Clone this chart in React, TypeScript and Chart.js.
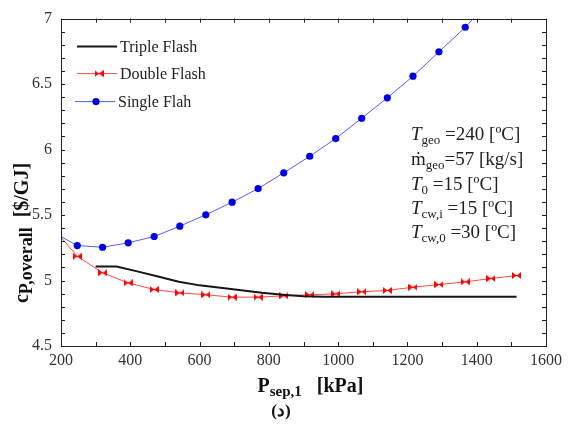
import React, { useEffect, useRef } from "react";
import { Chart, registerables } from "chart.js";

Chart.register(...registerables);

// ---- data ----
const xTicks = [200, 400, 600, 800, 1000, 1200, 1400, 1600];
const yTicks = [4.5, 5, 5.5, 6, 6.5, 7];

const tripleX = [300, 360, 420, 480, 540, 600, 660, 720, 780, 840, 900, 960, 1100, 1300, 1515];
const tripleY = [5.107, 5.107, 5.07, 5.03, 4.99, 4.963, 4.944, 4.925, 4.906, 4.892, 4.88, 4.876, 4.876, 4.876, 4.877];

const doubleX = [200, 247, 320, 394, 469, 543, 618, 694, 769, 843, 918, 993, 1068, 1142, 1216, 1291, 1367, 1441, 1515];
const doubleY = [5.33, 5.185, 5.059, 4.982, 4.931, 4.906, 4.891, 4.873, 4.873, 4.883, 4.891, 4.898, 4.914, 4.924, 4.949, 4.969, 4.99, 5.015, 5.038];

const singleX = [200, 247, 320, 394, 469, 543, 618, 694, 769, 843, 918, 993, 1068, 1142, 1216, 1291, 1367, 1450];
const singleY = [5.336, 5.267, 5.254, 5.288, 5.336, 5.415, 5.502, 5.598, 5.702, 5.822, 5.949, 6.084, 6.239, 6.395, 6.56, 6.746, 6.934, 7.17];

const seriesNames = ["Triple Flash", "Double Flash", "Single Flah"];

type Run = { t: string; italic?: boolean; sub?: boolean };
const annotationLines: Run[][] = [
  [{ t: "T", italic: true }, { t: "geo", sub: true }, { t: " =240 [ºC]" }],
  [{ t: "ṁ" }, { t: "geo", sub: true }, { t: "=57 [kg/s]" }],
  [{ t: "T", italic: true }, { t: "0", sub: true }, { t: " =15 [ºC]" }],
  [{ t: "T", italic: true }, { t: "cw,i", sub: true }, { t: " =15 [ºC]" }],
  [{ t: "T", italic: true }, { t: "cw,0", sub: true }, { t: " =30 [ºC]" }],
];
const xTitle: Run[] = [{ t: "P" }, { t: "sep,1", sub: true }, { t: "   [kPa]" }];
const yTitle: Run[] = [{ t: "c" }, { t: "P,overall", sub: true }, { t: "  [$/GJ]" }];
const caption = "(د)";

const FAMILY = "'Liberation Serif', 'Times New Roman', serif";

const BLACK = "#151515";
const RED_LINE = "#ff4a4a";
const RED_MARK = "#ff0000";
const BLUE_LINE = "#5a5aff";
const BLUE_MARK = "#0000e6";

function makeBowtie(): HTMLCanvasElement {
  const c = document.createElement("canvas");
  c.width = 9;
  c.height = 7;
  const g = c.getContext("2d")!;
  g.fillStyle = RED_MARK;
  g.beginPath();
  g.moveTo(0, 0);
  g.lineTo(0, 7);
  g.lineTo(4.5, 3.5);
  g.closePath();
  g.fill();
  g.beginPath();
  g.moveTo(9, 0);
  g.lineTo(9, 7);
  g.lineTo(4.5, 3.5);
  g.closePath();
  g.fill();
  g.fillRect(0, 3, 9, 1);
  return c;
}

function runsWidth(ctx: CanvasRenderingContext2D, runs: Run[], base: number, sub: number, bold: boolean) {
  let w = 0;
  for (const r of runs) {
    ctx.font = `${r.italic ? "italic " : ""}${bold ? "bold " : ""}${r.sub ? sub : base}px ${FAMILY}`;
    w += ctx.measureText(r.t).width;
  }
  return w;
}

function drawRuns(
  ctx: CanvasRenderingContext2D,
  runs: Run[],
  x: number,
  y: number,
  base: number,
  sub: number,
  subDy: number,
  bold: boolean
) {
  let cx = x;
  for (const r of runs) {
    ctx.font = `${r.italic ? "italic " : ""}${bold ? "bold " : ""}${r.sub ? sub : base}px ${FAMILY}`;
    ctx.fillText(r.t, cx, y + (r.sub ? subDy : 0));
    cx += ctx.measureText(r.t).width;
  }
}

export default function App() {
  const ref = useRef<HTMLCanvasElement | null>(null);

  useEffect(() => {
    if (!ref.current) return;
    const bowtie = makeBowtie();

    const decor = {
      id: "decor",
      afterDraw(chart: any) {
        const ctx: CanvasRenderingContext2D = chart.ctx;
        const a = chart.chartArea;
        const xs = chart.scales.x;
        const ys = chart.scales.y;
        ctx.save();

        // frame
        ctx.strokeStyle = "#222";
        ctx.lineWidth = 1;
        ctx.strokeRect(Math.round(a.left) + 0.5, Math.round(a.top) + 0.5, Math.round(a.right - a.left), Math.round(a.bottom - a.top));

        // inward ticks
        ctx.beginPath();
        for (let v = 200; v <= 1600; v += 100) {
          const px = Math.round(xs.getPixelForValue(v)) + 0.5;
          ctx.moveTo(px, a.bottom);
          ctx.lineTo(px, a.bottom - 4);
          ctx.moveTo(px, a.top);
          ctx.lineTo(px, a.top + 4);
        }
        for (let i = 0; i <= 25; i++) {
          const v = 4.5 + i * 0.1;
          const py = Math.round(ys.getPixelForValue(v)) + 0.5;
          ctx.moveTo(a.left, py);
          ctx.lineTo(a.left + 4, py);
          ctx.moveTo(a.right, py);
          ctx.lineTo(a.right - 4, py);
        }
        ctx.stroke();

        // legend inside plot
        const lx = a.left + 16;
        const rows = [a.top + 28, a.top + 55, a.top + 83];
        const ds = chart.data.datasets;
        ctx.textBaseline = "middle";
        ctx.textAlign = "left";
        for (let i = 0; i < 3; i++) {
          const y = rows[i];
          const d = ds[i];
          ctx.strokeStyle = d.borderColor;
          ctx.lineWidth = d.borderWidth;
          ctx.beginPath();
          const off = i === 2 ? -2 : 0;
          ctx.moveTo(lx + off, y);
          ctx.lineTo(lx + 40 + off, y);
          ctx.stroke();
          if (i === 1) {
            ctx.drawImage(bowtie, lx + 22 - 4.5, y - 3.5);
          } else if (i === 2) {
            ctx.fillStyle = BLUE_MARK;
            ctx.beginPath();
            ctx.arc(lx + 19, y, 3.6, 0, Math.PI * 2);
            ctx.fill();
          }
          ctx.fillStyle = "#222";
          ctx.font = `16px ${FAMILY}`;
          ctx.fillText(d.label, lx + 43 + off, y + 1);
        }

        // annotation block
        ctx.textBaseline = "alphabetic";
        ctx.fillStyle = "#222";
        const ax = a.left + 350;
        const baselines = [140, 165, 190, 214, 238];
        annotationLines.forEach((runs, i) => {
          drawRuns(ctx, runs, ax, baselines[i], 19, 13, 4, false);
        });

        // x title
        ctx.fillStyle = "#111";
        const xw = runsWidth(ctx, xTitle, 20, 15, true);
        const xc = (a.left + a.right) / 2 + 7;
        drawRuns(ctx, xTitle, xc - xw / 2, 392, 20, 15, 4, true);

        // y title (rotated)
        ctx.save();
        ctx.translate(28, 233);
        ctx.rotate(-Math.PI / 2);
        const yw = runsWidth(ctx, yTitle, 20, 18, true);
        drawRuns(ctx, yTitle, -yw / 2, 0, 20, 18, 4, true);
        ctx.restore();

        // caption
        ctx.font = `bold 17px ${FAMILY}`;
        ctx.textAlign = "center";
        ctx.fillText(caption, 281, 416);

        ctx.restore();
      },
    };

    const chart = new Chart(ref.current, {
      type: "line",
      data: {
        datasets: [
          {
            label: seriesNames[0],
            data: tripleX.map((x, i) => ({ x, y: tripleY[i] })),
            borderColor: BLACK,
            borderWidth: 2,
            pointRadius: 0,
            tension: 0,
          },
          {
            label: seriesNames[1],
            data: doubleX.map((x, i) => ({ x, y: doubleY[i] })),
            borderColor: RED_LINE,
            borderWidth: 1,
            pointStyle: bowtie as any,
            pointRadius: doubleX.map((_, i) => (i === 0 ? 0 : 4)),
            tension: 0,
          },
          {
            label: seriesNames[2],
            data: singleX.map((x, i) => ({ x, y: singleY[i] })),
            borderColor: BLUE_LINE,
            borderWidth: 1,
            pointStyle: "circle",
            pointRadius: singleX.map((_, i) => (i === 0 || i === singleX.length - 1 ? 0 : 3.6)),
            pointBackgroundColor: BLUE_MARK,
            pointBorderColor: BLUE_MARK,
            pointBorderWidth: 0,
            tension: 0,
          },
        ],
      },
      options: {
        responsive: false,
        animation: false,
        devicePixelRatio: 1,
        layout: { padding: { left: 0, top: 18, right: 22, bottom: 0 } },
        plugins: {
          legend: { display: false },
          tooltip: { enabled: false },
        },
        scales: {
          x: {
            type: "linear",
            min: 200,
            max: 1600,
            grid: { display: false, drawTicks: false },
            border: { display: false },
            afterBuildTicks: (s: any) => {
              s.ticks = xTicks.map((v) => ({ value: v }));
            },
            afterFit: (s: any) => {
              s.height = 100;
            },
            ticks: {
              autoSkip: false,
              maxRotation: 0,
              padding: 5,
              color: "#333",
              font: { family: FAMILY, size: 16 },
              callback: (v: any) => String(v),
            },
          },
          y: {
            type: "linear",
            min: 4.5,
            max: 7,
            grid: { display: false, drawTicks: false },
            border: { display: false },
            afterBuildTicks: (s: any) => {
              s.ticks = yTicks.map((v) => ({ value: v }));
            },
            afterFit: (s: any) => {
              s.width = 61;
            },
            ticks: {
              autoSkip: false,
              padding: 9,
              color: "#333",
              font: { family: FAMILY, size: 16 },
              callback: (v: any) => String(v),
            },
          },
        },
      },
      plugins: [decor],
    });

    return () => chart.destroy();
  }, []);

  return (
    <div style={{ position: "absolute", left: 0, top: 0, width: 568, height: 446, background: "#fff" }}>
      <canvas ref={ref} width={568} height={446} style={{ width: 568, height: 446, display: "block" }} />
    </div>
  );
}
